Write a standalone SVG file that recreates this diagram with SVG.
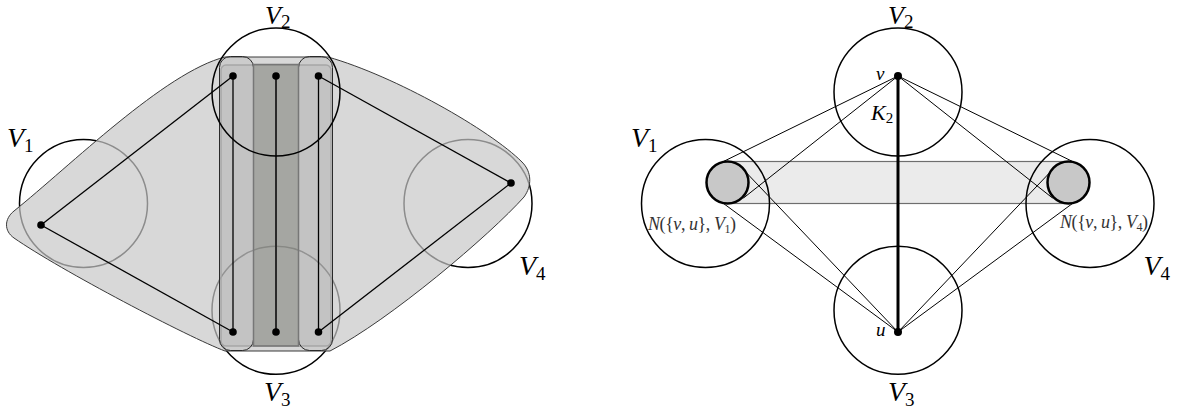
<svg xmlns="http://www.w3.org/2000/svg" width="1178" height="416" viewBox="0 0 1178 416">
<style>
.vc{fill:none;stroke:#000;stroke-width:1.5}
.ln{stroke:#000;stroke-width:1.3;fill:none}
.dot{fill:#000}
.lab{font-family:"Liberation Serif",serif;font-style:italic;font-size:28px;fill:#000}
.sub{font-style:normal;font-size:19px}
.top{font-size:26px}
.sm{font-family:"Liberation Serif",serif;font-size:18px;fill:#333}
.it{font-style:italic}
</style>
<rect width="1178" height="416" fill="#fff"/>
<!-- LEFT FIGURE -->
<g id="left-V1"><circle class="vc" cx="83.5" cy="203.5" r="64"/><text class="lab" x="7" y="147">V<tspan class="sub" dy="5">1</tspan></text></g>
<g id="left-V3"><circle class="vc" cx="276" cy="310.3" r="64"/><text class="lab" x="264" y="401">V<tspan class="sub" dy="5">3</tspan></text></g>
<g id="left-V4"><circle class="vc" cx="468" cy="203.5" r="64"/><text class="lab" x="519" y="275">V<tspan class="sub" dy="5">4</tspan></text></g>
<g id="left-regions">
<path d="M225,57 L328,57 C395,76 490,130 522,162 C532,172 532,186 524,197 C490,235 390,320 330,351 L225,351 C190,338 60,270 14,238 C4,231 4,219 14,211 C70,166 165,72 225,57 Z" fill="rgb(200,200,200)" fill-opacity="0.7" stroke="#3a3a3a" stroke-width="1"/>
<rect x="221" y="65" width="110" height="281" rx="5" fill="rgb(160,160,160)" fill-opacity="0.2" stroke="#a8a8a8" stroke-width="1.5"/>
<rect x="219.5" y="56.5" width="34" height="294" rx="11" fill="rgb(160,160,160)" fill-opacity="0.2" stroke="#2a2a2a" stroke-width="1"/>
<rect x="298.5" y="56.5" width="34" height="294" rx="11" fill="rgb(160,160,160)" fill-opacity="0.2" stroke="#2a2a2a" stroke-width="1"/>
<rect x="253.5" y="64.5" width="45" height="281.5" fill="rgb(125,128,120)" fill-opacity="0.5" stroke="#777" stroke-width="1.5"/>
</g>
<g id="left-edges">
<line class="ln" x1="41" y1="225" x2="233" y2="76"/>
<line class="ln" x1="41" y1="225" x2="233" y2="332"/>
<line class="ln" x1="511" y1="183" x2="318.5" y2="76"/>
<line class="ln" x1="511" y1="183" x2="318.5" y2="332"/>
<line class="ln" x1="233" y1="76" x2="233" y2="332"/>
<line x1="276" y1="76" x2="276" y2="332" stroke="#2b2b2b" stroke-width="2"/>
<line class="ln" x1="318.5" y1="76" x2="318.5" y2="332"/>
</g>
<g id="left-vertices">
<circle class="dot" cx="41" cy="225" r="3.8"/>
<circle class="dot" cx="511" cy="183" r="3.8"/>
<circle class="dot" cx="233" cy="76" r="3.8"/>
<circle class="dot" cx="276" cy="76" r="3.8"/>
<circle class="dot" cx="318.5" cy="76" r="3.8"/>
<circle class="dot" cx="233" cy="332" r="3.8"/>
<circle class="dot" cx="276" cy="332" r="3.8"/>
<circle class="dot" cx="318.5" cy="332" r="3.8"/>
</g>
<g id="left-V2"><circle class="vc" cx="276" cy="92" r="64"/><text class="lab top" x="265" y="24">V<tspan class="sub" dy="4">2</tspan></text></g>
<!-- RIGHT FIGURE -->
<g id="band"><rect x="727.5" y="161.5" width="341" height="42" fill="#ebebeb" stroke="#6e6e6e" stroke-width="1.2"/></g>
<g id="right-V1"><circle class="vc" cx="705.5" cy="203.5" r="64"/><text class="lab" x="631" y="147">V<tspan class="sub" dy="5">1</tspan></text></g>
<g id="right-V2"><circle class="vc" cx="898" cy="92" r="64"/><text class="lab top" x="888" y="24">V<tspan class="sub" dy="4">2</tspan></text></g>
<g id="right-V3"><circle class="vc" cx="898" cy="310.3" r="64"/><text class="lab" x="888" y="401">V<tspan class="sub" dy="5">3</tspan></text></g>
<g id="right-V4"><circle class="vc" cx="1090" cy="203.5" r="64"/><text class="lab" x="1143.5" y="275">V<tspan class="sub" dy="5">4</tspan></text></g>
<g id="right-edges">
<line x1="898" y1="76" x2="723.8" y2="161.3" stroke="#000" stroke-width="1"/>
<line x1="898" y1="76" x2="743.5" y2="198" stroke="#000" stroke-width="1"/>
<line x1="898" y1="332" x2="723.8" y2="203.7" stroke="#000" stroke-width="1"/>
<line x1="898" y1="332" x2="747" y2="173.4" stroke="#000" stroke-width="1"/>
<line x1="898" y1="76" x2="1072.2" y2="161.3" stroke="#000" stroke-width="1"/>
<line x1="898" y1="76" x2="1052.5" y2="198" stroke="#000" stroke-width="1"/>
<line x1="898" y1="332" x2="1072.2" y2="203.7" stroke="#000" stroke-width="1"/>
<line x1="898" y1="332" x2="1049" y2="173.4" stroke="#000" stroke-width="1"/>
<line x1="898" y1="76" x2="898" y2="332" stroke="#000" stroke-width="3"/>
</g>
<g id="N1"><circle cx="727.5" cy="182.5" r="21" fill="#c8c8c8" stroke="#000" stroke-width="2.5"/>
<text class="sm" x="648" y="230" textLength="88" lengthAdjust="spacing"><tspan class="it">N</tspan>({<tspan class="it">v</tspan>, <tspan class="it">u</tspan>}, <tspan class="it">V</tspan><tspan font-size="12" dy="3">1</tspan><tspan dy="-3">)</tspan></text></g>
<g id="N4"><circle cx="1068.5" cy="182.5" r="21" fill="#c8c8c8" stroke="#000" stroke-width="2.5"/>
<text class="sm" x="1060" y="228" textLength="88" lengthAdjust="spacing"><tspan class="it">N</tspan>({<tspan class="it">v</tspan>, <tspan class="it">u</tspan>}, <tspan class="it">V</tspan><tspan font-size="12" dy="3">4</tspan><tspan dy="-3">)</tspan></text></g>
<g id="vertex-v"><circle class="dot" cx="898" cy="76" r="4"/><text class="lab" style="font-size:19px" x="876" y="80">v</text></g>
<g id="vertex-u"><circle class="dot" cx="898" cy="332" r="4"/><text class="lab" style="font-size:19px" x="876" y="336">u</text></g>
<g id="K2"><text class="lab" style="font-size:22px" x="871" y="120">K<tspan class="sub" style="font-size:15px" dy="3">2</tspan></text></g>
</svg>
